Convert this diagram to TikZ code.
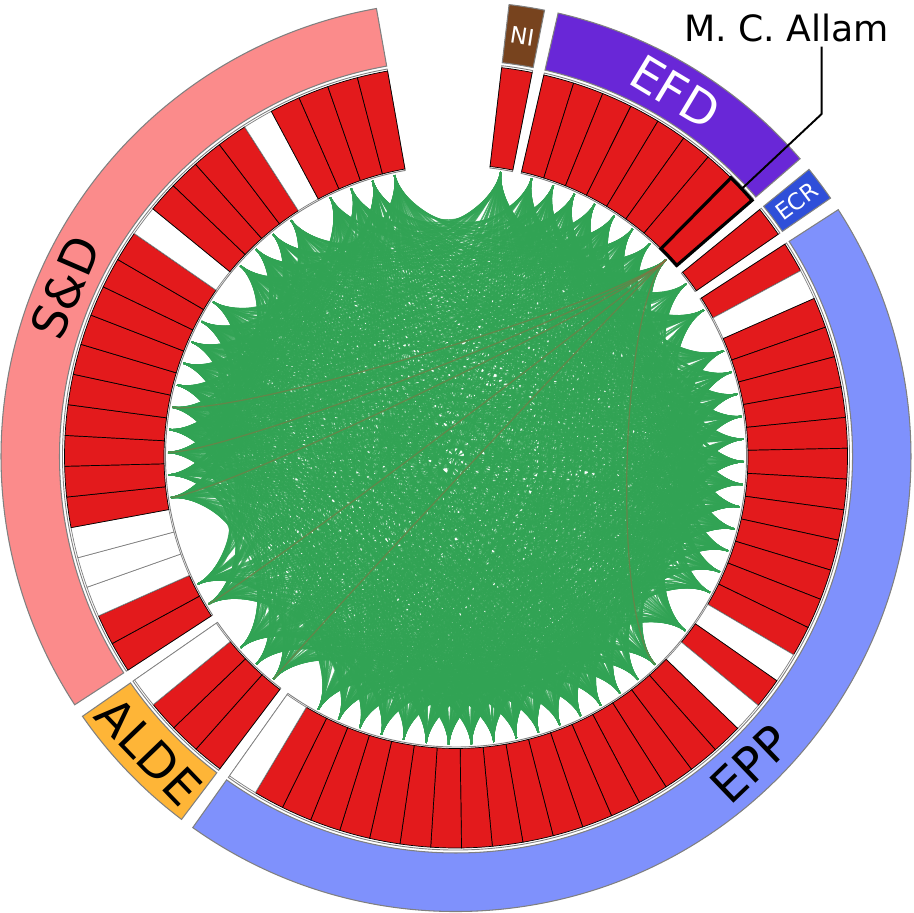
\documentclass[tikz,border=0pt]{standalone}
\usepackage{fontspec}
\setmainfont{DejaVu Sans}

\definecolor{seatred}{HTML}{E31A1C}
\definecolor{chordgreen}{HTML}{31A354}
\definecolor{sdpink}{HTML}{FB8B8B}
\definecolor{efdpurple}{HTML}{6927D7}
\definecolor{ecrblue}{HTML}{2F4FD9}
\definecolor{eppblue}{HTML}{7F91FC}
\definecolor{aldeorange}{HTML}{FEB537}
\definecolor{nibrown}{HTML}{77431E}
\definecolor{allambrown}{HTML}{96693F}

\tikzset{
  grp/.style={fill=white, draw=gray, line width=0.25pt},
  seat/.style={fill=seatred, draw=black, line width=0.2pt},
  noseat/.style={fill=white, draw=gray, line width=0.2pt},
  band/.style={draw=gray, line width=0.3pt},
  chordline/.style={draw=chordgreen, line width=0.42pt, draw opacity=0.85},
  allamline/.style={draw=allambrown, line width=0.35pt, draw opacity=0.5},
  biglabel/.style={font=\fontsize{13.6}{16}\selectfont, inner sep=0pt},
  smalllabel/.style={font=\fontsize{6.5}{8}\selectfont, inner sep=0pt, text=white},
}

\newcount\seatno
% style, start angle, end angle, inner radius, outer radius
\newcommand{\annsec}[5]{%
  \path[#1] (#2:#4) arc[start angle=#2, end angle=#3, radius=#4]
    -- (#3:#5) arc[start angle=#3, end angle=#2, radius=#5] -- cycle;}

\begin{document}
\begin{tikzpicture}
\useasboundingbox (-4.56,-4.565) rectangle (4.57,4.565);

% group rings
\annsec{grp}{83.30}{78.78}{2.905}{3.935}
\annsec{grp}{77.03}{40.87}{2.905}{3.935}
\annsec{grp}{39.12}{34.60}{2.905}{3.935}
\annsec{grp}{32.85}{-125.35}{2.905}{3.935}
\annsec{grp}{-127.10}{-145.18}{2.905}{3.935}
\annsec{grp}{-146.93}{-259.93}{2.905}{3.935}

% seats, clockwise from NI; 1 = red, 0 = empty
\foreach \gs/\pat in {83.30/{1},
    77.03/{1,1,1,1,1,1,1,1},
    39.12/{1},
    32.85/{1,0,1,1,1,1,1,1,1,1,1,1,1,1,0,1,0,1,1,1,1,1,1,1,1,1,1,1,1,1,1,1,1,1,0},
    -127.10/{1,1,1,0},
    -146.93/{1,1,0,0,0,1,1,1,1,1,1,1,1,1,1,0,1,1,1,1,0,1,1,1,1}} {
  \foreach \sc [count=\k] in \pat {
    \pgfmathsetmacro\angA{\gs-(\k-1)*4.52}
    \pgfmathsetmacro\angB{\angA-4.52}
    \ifnum\sc=1
      \annsec{seat}{\angA}{\angB}{2.92}{3.915}
      \global\advance\seatno by 1
      \edef\nn{\the\seatno}
      \pgfmathsetmacro\angM{\angA-2.26}
      \coordinate (n\nn) at (\angM:2.88);
      \expandafter\xdef\csname ang\nn\endcsname{\angM}
    \else
      \annsec{noseat}{\angA}{\angB}{2.92}{3.915}
    \fi
  }
}

% party bands
\annsec{band, fill=nibrown}{83.30}{78.78}{3.965}{4.55}
\annsec{band, fill=efdpurple}{77.03}{40.87}{3.965}{4.55}
\annsec{band, fill=ecrblue}{39.12}{34.60}{3.965}{4.55}
\annsec{band, fill=eppblue}{32.85}{-125.35}{3.965}{4.55}
\annsec{band, fill=aldeorange}{-127.10}{-145.18}{3.965}{4.55}
\annsec{band, fill=sdpink}{-146.93}{-259.93}{3.965}{4.55}

\node[smalllabel, rotate=-8.96] (nilabel) at (81.04:4.257) {NI};
\node[biglabel, text=white, rotate=-31.05] (efdlabel) at (58.95:4.257) {EFD};
\node[smalllabel, rotate=36.86] (ecrlabel) at (36.86:4.257) {ECR};
\node[biglabel, rotate=43.75] (epplabel) at (-46.25:4.257) {EPP};
\node[biglabel, rotate=-46.14] (aldelabel) at (-136.14:4.257) {ALDE};
\node[biglabel, rotate=66.57] (sdlabel) at (156.57:4.257) {S\&D};

% co-voting chords, pulled towards the centre at both ends
\pgfmathsetseed{4242}
\foreach \i in {1,...,63} {
  \pgfmathtruncatemacro\jlo{\i+1}
  \foreach \j in {\jlo,...,64} {
    \pgfmathtruncatemacro\hit{rnd<0.8}
    \ifnum\hit=1
      \edef\angi{\csname ang\i\endcsname}
      \edef\angj{\csname ang\j\endcsname}
      \draw[chordline] (n\i) .. controls (\angi:2.25) and (\angj:2.25) .. (n\j);
    \fi
  }
}

% M. C. Allam (seat 9)
\foreach \t in {25,42,45,47,49,51} {
  \edef\angj{\csname ang\t\endcsname}
  \draw[allamline] (n9) .. controls (\csname ang9\endcsname:2.25) and (\angj:2.25) .. (n\t);
}
\annsec{draw=black, line width=0.9pt}{45.39}{40.87}{2.92}{3.915}
\coordinate (allamout) at (43.13:3.915);
\coordinate (allamknee) at (43.13:5.01);
\node[font=\fontsize{10.3}{12}\selectfont, anchor=base, inner sep=1pt] (allamlabel) at (3.305,4.145) {M. C. Allam};
\draw[black, line width=0.55pt] (allamout) -- (allamknee) -- (allamknee |- allamlabel.south);
\end{tikzpicture}
\end{document}
